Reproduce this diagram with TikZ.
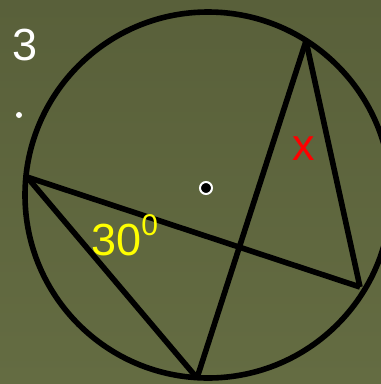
\documentclass[tikz,border=0pt]{standalone}
\usepackage{fontspec}
\setmainfont{Liberation Sans}
\definecolor{olivetop}{RGB}{89,96,58}
\definecolor{olivebot}{RGB}{100,108,66}
\definecolor{anglelbl}{RGB}{255,255,0}

\begin{document}
\begin{tikzpicture}[x=1pt,y=-1pt,
chord/.style={line width=5.6pt,line cap=butt},
lbl/.style={inner sep=0pt,font=\fontsize{45}{45}\selectfont}]
\useasboundingbox (0,0) rectangle (381,384);
\shade[top color=olivetop,bottom color=olivebot] (0,0) rectangle (381,384);
% circle and points on it
\coordinate (O) at (208,195);
\coordinate (A) at (27,177);
\coordinate (B) at (306,41);
\coordinate (C) at (360,287);
\coordinate (D) at (197,378);
\draw[chord] (O) circle[radius=183pt];
\draw[chord] (A) -- (C);
\draw[chord] (A) -- (D);
\draw[chord] (B) -- (D);
\draw[chord] (B) -- (C);
% centre mark
\filldraw[fill=black,draw=white,line width=2pt] (206,188) circle[radius=6pt];
% labels
\node[lbl,white,anchor=base] (num) at (25.5,60) {3};
\fill[white] (19,115) circle[radius=3pt];
\node[lbl,anglelbl,anchor=base west] (ang) at (91,255) {30\raisebox{20pt}{\fontsize{30}{30}\selectfont 0}};
\node[lbl,red,anchor=base] (x) at (304,160) {x};
\end{tikzpicture}
\end{document}
